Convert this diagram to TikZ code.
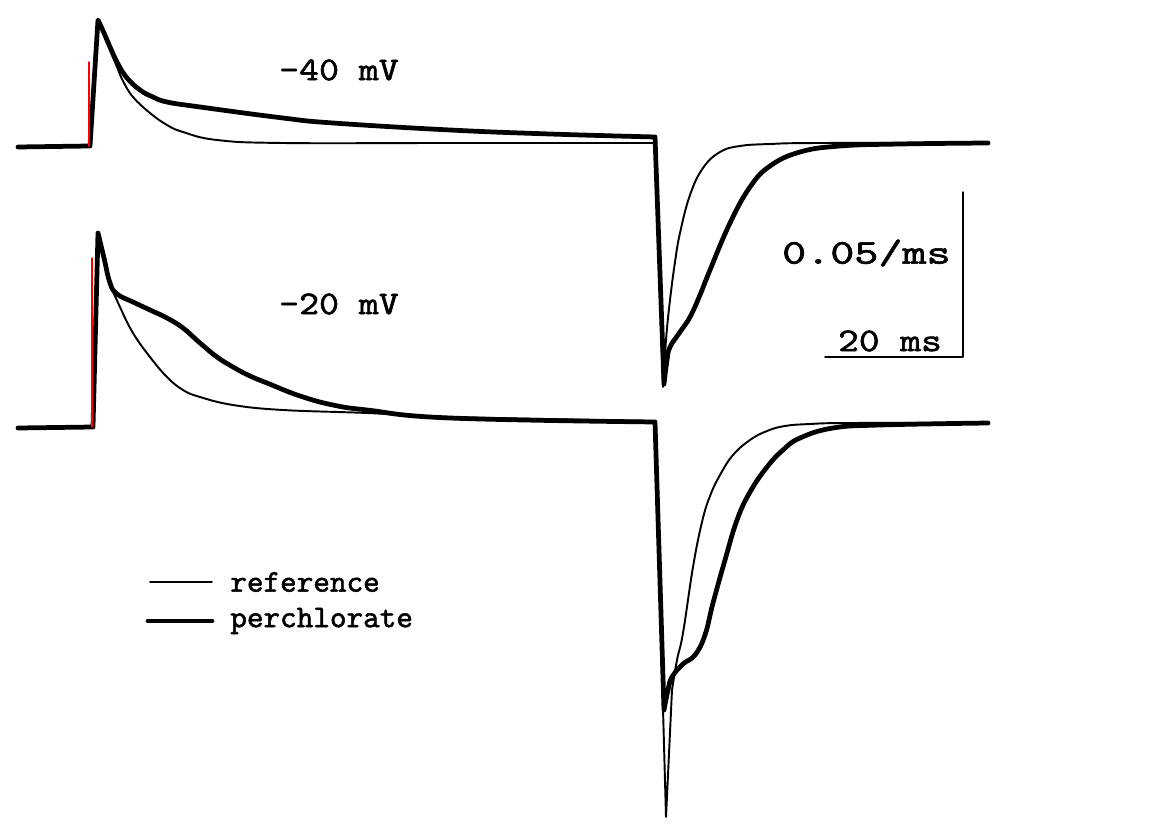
\documentclass[tikz,border=0pt]{standalone}
\usepackage{fontspec}
\usepackage{tikz}
\newfontfamily\plotfont{lmmono10-regular}[Extension=.otf, FakeBold=1.6]

\begin{document}
\begin{tikzpicture}[x=0.02cm, y=-0.02cm, line join=round, line cap=round,
    reftrace/.style = {line width=1.1pt},
    perctrace/.style = {line width=2.7pt},
    marker/.style = {red, line width=0.8pt},
    scalebar/.style = {line width=0.8pt},
    lbl/.style = {font=\fontsize{18}{20}\selectfont\plotfont, inner sep=0pt}]
    \useasboundingbox (0,0) rectangle (1152,827);

    % -40 mV sweep
    \draw[reftrace] (18,146) -- (90,146) -- (98,20)
        -- plot[smooth, tension=0.7] coordinates {(98,20) (104,34) (110,50) (117,67) (123,81) (133,97) (150,113) (167,125) (183,132) (217,140) (283,143) (450,143) (655,143)}
        -- (663,387)
        -- plot[smooth, tension=0.7] coordinates {(663,387) (666,340) (670,300) (675,262) (680,233) (690,195) (703,168) (720,152) (740,146) (770,144) (820,143) (988,143)};
    \draw[perctrace] (18,147) -- (90,146) -- (98,20)
        -- plot[smooth, tension=0.7] coordinates {(98,20) (104,33) (110,47) (118,64) (127,78) (140,90) (153,97) (167,102) (200,107) (283,118) (333,123) (450,130) (550,134) (655,137)}
        -- (664,384)
        -- plot[smooth, tension=0.7] coordinates {(664,384) (667,360) (670,347) (680,332) (690,317) (700,295) (710,270) (730,223) (750,187) (770,166) (800,152) (840,146) (900,144) (988,143)};
    \draw[marker] (89,62) -- (89,146);

    % -20 mV sweep
    \draw[reftrace] (18,427) -- (92,427) -- (98,233)
        -- plot[smooth, tension=0.7] coordinates {(98,233) (104,258) (110,283) (120,307) (133,333) (150,357) (167,377) (183,390) (200,397) (233,405) (283,410) (367,413) (450,417) (655,421)}
        -- (666,817) -- (672,690)
        -- plot[smooth, tension=0.7] coordinates {(672,690) (677,660) (683,633) (693,567) (702,522) (710,496) (720,475) (733,455) (750,440) (767,431) (785,426) (810,424) (850,423) (988,423)};
    \draw[perctrace] (18,428) -- (93,427) -- (98,233)
        -- plot[smooth, tension=0.7] coordinates {(98,233) (104,258) (110,283) (117,294) (133,302) (150,310) (167,318) (183,328) (200,343) (217,357) (233,367) (250,376) (267,383) (300,396) (333,405) (367,410) (450,418) (655,422)}
        -- (664,710)
        -- plot[smooth, tension=0.7] coordinates {(664,710) (668,690) (672,677) (683,664) (695,655) (705,635) (713,603) (725,560) (737,520) (750,492) (767,467) (783,450) (800,438) (833,428) (880,425) (988,423)};
    \draw[marker] (92,258) -- (92,427);

    % labels
    \node[lbl] (v40) at (339,70) {\scalebox{1.2}[1.05]{-40 mV}};
    \node[lbl] (v20) at (339,304) {\scalebox{1.2}[1.05]{-20 mV}};

    % scale bar
    \coordinate (sbtop) at (963,192);
    \coordinate (sbcorner) at (963,357);
    \coordinate (sbleft) at (825,357);
    \draw[scalebar] (sbtop) -- (sbcorner) -- (sbleft);
    \node[lbl, anchor=east] (sby) at (951,253) {\scalebox{1.45}[1.1]{0.05/ms}};
    \node[lbl] (sbx) at (890,341) {\scalebox{1.25}[1.05]{20 ms}};

    % legend
    \coordinate (ref0) at (150,582);
    \coordinate (ref1) at (212,582);
    \coordinate (perc0) at (148,621);
    \coordinate (perc1) at (212,621);
    \draw[reftrace] (ref0) -- (ref1);
    \draw[perctrace] (perc0) -- (perc1);
    \node[lbl, anchor=west] (reflbl) at (230,582) {reference};
    \node[lbl, anchor=west] (perclbl) at (230,621) {perchlorate};
\end{tikzpicture}
\end{document}
